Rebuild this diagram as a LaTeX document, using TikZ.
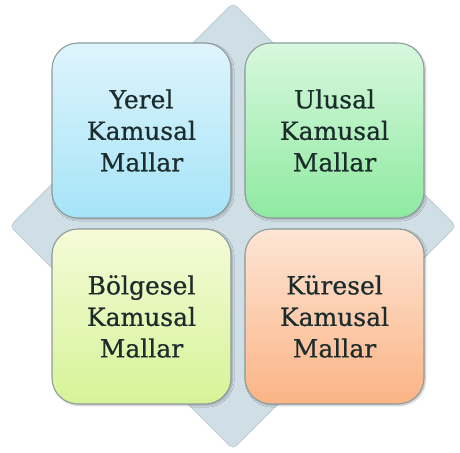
\documentclass[tikz,border=0pt]{standalone}
\usepackage{fontspec}
\newfontfamily\yazifont[FakeBold=0.6]{DejaVu Serif}
\usetikzlibrary{shadows.blur}
\definecolor{elmas}{HTML}{D0DEE6}
\definecolor{elmaskenar}{HTML}{BCCCD6}
\definecolor{kenar}{HTML}{8E9C9C}
\definecolor{yazi}{HTML}{1C2C2C}
\definecolor{maviust}{HTML}{DEF4FC}
\definecolor{mavialt}{HTML}{A6E4F8}
\definecolor{yesilust}{HTML}{D8F8DE}
\definecolor{yesilalt}{HTML}{8EEAA0}
\definecolor{sariust}{HTML}{F5FBD8}
\definecolor{sarialt}{HTML}{D6F398}
\definecolor{turuncuust}{HTML}{FDE5D5}
\definecolor{turuncualt}{HTML}{FBB485}

\tikzset{
  kutu/.style={draw=kenar, line width=1.1pt, rounded corners=26pt,
    minimum width=179pt, minimum height=175pt, align=center,
    text=yazi, font=\yazifont\fontsize{25}{31.5}\selectfont,
    blur shadow={shadow blur steps=5, shadow xshift=1.5pt, shadow yshift=-1.5pt, shadow opacity=25}}
}

\begin{document}
\begin{tikzpicture}[x=1pt,y=-1pt]
  \useasboundingbox (0,0) rectangle (460,452);

  %--- arka plandaki elmas
  \draw[elmaskenar, fill=elmas, line width=0.8pt, rounded corners=5pt]
    (233,3) -- (456,226) -- (233,449) -- (10,226) -- cycle;

  %--- dort kutu
  \node[kutu, top color=maviust, bottom color=mavialt] (yerel) at (141.5,130.5)
    {Yerel\\Kamusal\\Mallar};
  \node[kutu, top color=yesilust, bottom color=yesilalt] (ulusal) at (334.5,130.5)
    {Ulusal\\Kamusal\\Mallar};
  \node[kutu, top color=sariust, bottom color=sarialt] (bolgesel) at (141.5,316.5)
    {Bölgesel\\Kamusal\\Mallar};
  \node[kutu, top color=turuncuust, bottom color=turuncualt] (kuresel) at (334.5,316.5)
    {Küresel\\Kamusal\\Mallar};
\end{tikzpicture}
\end{document}
